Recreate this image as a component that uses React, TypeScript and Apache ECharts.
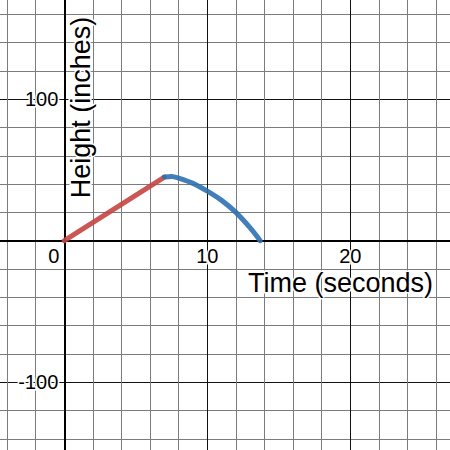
import React, { useEffect, useRef } from "react";
import * as echarts from "echarts";

// Axis ranges / ticks
const xRange = [-10, 30];
const yRange = [-200, 200];
const xMajor = 10;
const yMajor = 100;
const xTickLabels = ["10", "20"];
const yTickLabels = ["100", "-100"];

// Series data (time in seconds, height in inches)
const climbTime = [0, 7];
const climbHeight = [0, 45];
const fallTime = [7, 7.5, 8, 9, 10, 11, 12, 13, 13.7];
const fallHeight = [45, 45.4, 44.2, 40.5, 35, 28.5, 20, 9, 0];

const xTitle = "Time (seconds)";
const yTitle = "Height (inches)";

export default function App() {
  const ref = useRef<HTMLDivElement>(null);
  useEffect(() => {
    if (!ref.current) return;
    const chart = echarts.init(ref.current, null, { renderer: "svg" });
    const halo = { textBorderColor: "#fff", textBorderWidth: 3 };
    const font = "Liberation Sans, Arial, sans-serif";
    chart.setOption({
      animation: false,
      backgroundColor: "#fff",
      grid: {
        left: -78.7,
        right: -43.3,
        top: -42.3,
        bottom: -73.7,
        containLabel: false,
        outerBoundsMode: "none",
      },
      xAxis: {
        type: "value",
        position: "bottom",
        offset: -283,
        min: xRange[0],
        max: xRange[1],
        interval: xMajor,
        axisLine: { show: true, onZero: false, lineStyle: { color: "#000", width: 2 } },
        axisTick: { show: false },
        splitLine: { show: true, lineStyle: { color: "#111", width: 1 } },
        minorTick: { show: false, splitNumber: 5 },
        minorSplitLine: { show: true, lineStyle: { color: "#7c7c7c", width: 1 } },
        axisLabel: {
          margin: 5,
          fontSize: 20,
          fontFamily: font,
          color: "#000",
          ...halo,
          formatter: (v: number) => {
            if (v === 0) return "{z|0}";
            const s = String(v);
            return xTickLabels.includes(s) ? s : "";
          },
          rich: { z: { fontSize: 20, fontFamily: font, color: "#000", padding: [0, 21, 0, 0], ...halo } },
        },
      },
      yAxis: {
        type: "value",
        position: "left",
        offset: -143,
        min: yRange[0],
        max: yRange[1],
        interval: yMajor,
        axisLine: { show: true, onZero: false, lineStyle: { color: "#000", width: 2 } },
        axisTick: { show: false },
        splitLine: { show: true, lineStyle: { color: "#111", width: 1 } },
        minorTick: { show: false, splitNumber: 5 },
        minorSplitLine: { show: true, lineStyle: { color: "#7c7c7c", width: 1 } },
        axisLabel: {
          margin: 6,
          fontSize: 20,
          fontFamily: font,
          color: "#000",
          ...halo,
          formatter: (v: number) => {
            const s = String(v);
            return yTickLabels.includes(s) ? s : "";
          },
        },
      },
      graphic: [
        {
          type: "text",
          x: 340.5,
          y: 283,
          style: {
            text: xTitle,
            fontSize: 27,
            fontFamily: font,
            fill: "#000",
            align: "center",
            verticalAlign: "middle",
            stroke: "#fff",
            lineWidth: 3,
          },
          z: 100,
        },
        {
          type: "text",
          x: 81,
          y: 107.5,
          rotation: Math.PI / 2,
          style: {
            text: yTitle,
            fontSize: 27,
            fontFamily: font,
            fill: "#000",
            align: "center",
            verticalAlign: "middle",
            stroke: "#fff",
            lineWidth: 3,
          },
          z: 100,
        },
      ],
      series: [
        {
          type: "line",
          data: climbTime.map((t, i) => [t, climbHeight[i]]),
          symbol: "none",
          lineStyle: { color: "#c74440", width: 5, cap: "round", join: "round", opacity: 0.9 },
          z: 10,
        },
        {
          type: "line",
          data: fallTime.map((t, i) => [t, fallHeight[i]]),
          symbol: "none",
          smooth: 0.3,
          lineStyle: { color: "#2d70b3", width: 5, cap: "round", join: "round", opacity: 0.9 },
          z: 10,
        },
      ],
    });
    return () => chart.dispose();
  }, []);
  return (
    <div
      ref={ref}
      style={{ position: "fixed", left: 0, top: 0, width: 450, height: 450 }}
    />
  );
}
